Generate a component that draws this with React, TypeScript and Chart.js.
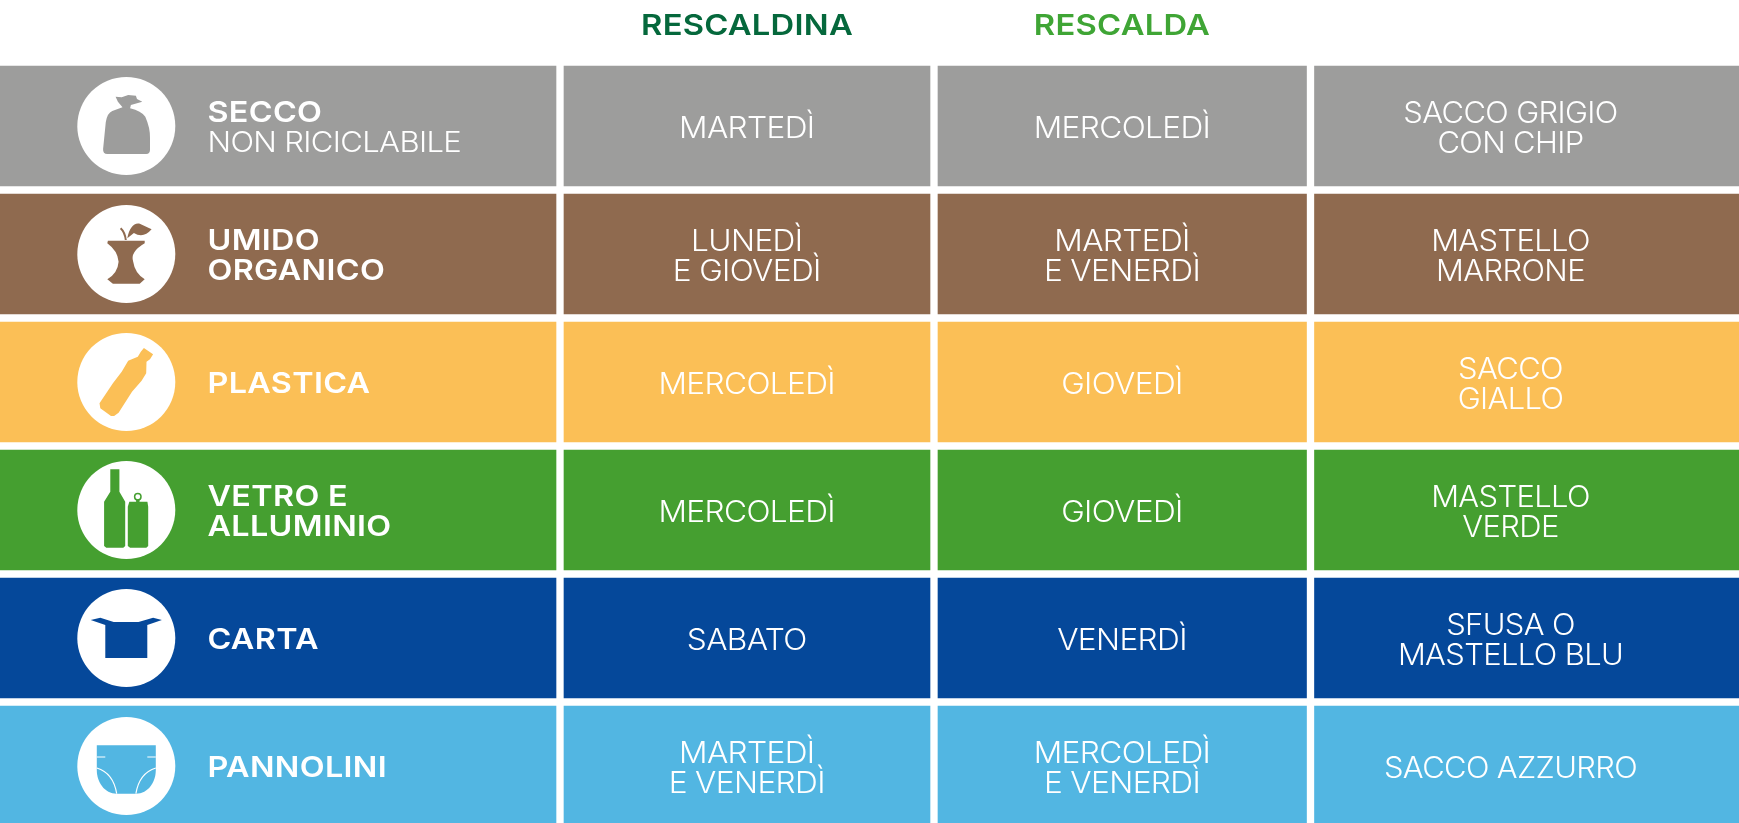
import React, { useEffect, useRef } from "react";
import { Chart, registerables } from "chart.js";

Chart.register(...registerables);

const rowKeys = ["secco", "umido", "plastica", "vetro", "carta", "pannolini"];
const rowColors = ["#9D9D9C", "#8F6A4F", "#FBBF56", "#459F30", "#05489A", "#52B6E2"];
const rowTitles = [
  ["SECCO", "NON RICICLABILE"],
  ["UMIDO", "ORGANICO"],
  ["PLASTICA"],
  ["VETRO E", "ALLUMINIO"],
  ["CARTA"],
  ["PANNOLINI"],
];
const rescaldina = [["MARTEDÌ"], ["LUNEDÌ", "E GIOVEDÌ"], ["MERCOLEDÌ"], ["MERCOLEDÌ"], ["SABATO"], ["MARTEDÌ", "E VENERDÌ"]];
const rescalda = [["MERCOLEDÌ"], ["MARTEDÌ", "E VENERDÌ"], ["GIOVEDÌ"], ["GIOVEDÌ"], ["VENERDÌ"], ["MERCOLEDÌ", "E VENERDÌ"]];
const contenitori = [
  ["SACCO GRIGIO", "CON CHIP"],
  ["MASTELLO", "MARRONE"],
  ["SACCO", "GIALLO"],
  ["MASTELLO", "VERDE"],
  ["SFUSA O", "MASTELLO BLU"],
  ["SACCO AZZURRO"],
];
const columnSpans = [
  [0, 556],
  [564, 930],
  [938, 1306.5],
  [1314.5, 1739],
];
const textCentres = [746.75, 1122, 1510.5];
const headers = [
  { text: "RESCALDINA", at: 747, color: "#05683C" },
  { text: "RESCALDA", at: 1122, color: "#3FA535" },
];

const FONT = "Inter";
const ICONS: Record<string, (c: CanvasRenderingContext2D, color: string) => void> = {};

function poly(c: CanvasRenderingContext2D, pts: number[][]) {
  c.beginPath();
  pts.forEach(([x, y], i) => (i ? c.lineTo(x, y) : c.moveTo(x, y)));
  c.closePath();
  c.fill();
}

ICONS.secco = (c, col) => {
  c.fillStyle = col;
  c.beginPath();
  c.moveTo(-10.7, -29.3);
  c.lineTo(-4.6, -28.7);
  c.lineTo(1.9, -31);
  c.lineTo(9.6, -30.3);
  c.lineTo(10.7, -27);
  c.lineTo(16, -24.3);
  c.lineTo(4.6, -21);
  c.lineTo(3.8, -17.7);
  c.quadraticCurveTo(15, -15, 19, -9.3);
  c.quadraticCurveTo(24, 2, 23.7, 12);
  c.lineTo(23.7, 24);
  c.quadraticCurveTo(23.5, 28, 20, 28);
  c.lineTo(-19, 28);
  c.quadraticCurveTo(-23.5, 28, -23.2, 23);
  c.lineTo(-20.5, -4);
  c.quadraticCurveTo(-19, -13, -14, -15);
  c.lineTo(-3.8, -18.7);
  c.lineTo(-8.4, -24.3);
  c.closePath();
  c.fill();
};

ICONS.umido = (c, col) => {
  c.fillStyle = col;
  c.strokeStyle = col;
  c.beginPath();
  c.moveTo(-18.4, -13.3);
  c.lineTo(18.4, -13.3);
  c.lineTo(18.4, -10.7);
  c.quadraticCurveTo(3.5, -2, 6.9, 7.7);
  c.quadraticCurveTo(8.5, 19, 18.4, 25.3);
  c.lineTo(13.4, 29.7);
  c.lineTo(-13.4, 29.7);
  c.lineTo(-19, 25.3);
  c.quadraticCurveTo(-8.5, 19, -7.7, 7.7);
  c.quadraticCurveTo(-8.5, -3, -19, -10.7);
  c.closePath();
  c.fill();
  c.lineWidth = 2;
  c.beginPath();
  c.moveTo(-5.7, -25.7);
  c.quadraticCurveTo(-1.5, -22, -0.5, -14);
  c.stroke();
  c.beginPath();
  c.moveTo(1, -15.7);
  c.bezierCurveTo(3, -26, 8, -32, 14, -30);
  c.lineTo(25.3, -24.7);
  c.quadraticCurveTo(17, -15, 7.6, -21);
  c.closePath();
  c.fill();
};

ICONS.plastica = (c, col) => {
  c.fillStyle = col;
  poly(c, [
    [17.6, -34], [26.8, -27.7], [23.7, -22.7], [20.2, -20.3], [19.9, -8.7], [15.3, -1.3], [5.7, 9.7],
    [-7.7, 30.7], [-12.2, 34], [-15.3, 34], [-26, 26.3], [-26.8, 21.3], [-13.4, 1.3], [-4.6, -10.3],
    [1.9, -21.3], [11.5, -25.3], [14.5, -30.3],
  ]);
};

ICONS.vetro = (c, col) => {
  c.fillStyle = col;
  c.strokeStyle = col;
  poly(c, [
    [-16, -40.7], [-6.9, -40.7], [-6.9, -18.3], [-1.1, -8.3], [-1.1, 36], [-3, 37.7], [-20, 37.7],
    [-22.2, 36], [-22.2, -8.3], [-16, -18.3],
  ]);
  poly(c, [
    [3, -8.3], [21.1, -8.3], [21.9, -3.3], [21.9, 36], [20, 37.7], [3.8, 37.7], [1.5, 36], [1.5, -3.3],
  ]);
  c.lineWidth = 1.5;
  c.beginPath();
  c.arc(11.5, -13.3, 3.2, 0, Math.PI * 2);
  c.stroke();
  c.fillRect(9.8, -10.5, 3.4, 2.5);
};

ICONS.carta = (c, col) => {
  c.fillStyle = col;
  poly(c, [
    [-35.6, -18], [-26, -20.3], [-12.6, -16], [12.2, -16], [26.8, -20.3], [35.6, -18], [21, -13],
    [21, 20], [-21, 20], [-21, -13],
  ]);
};

ICONS.pannolini = (c, col) => {
  c.fillStyle = col;
  c.beginPath();
  c.moveTo(-29.5, -20.7);
  c.lineTo(29.5, -20.7);
  c.lineTo(29.5, 4);
  c.bezierCurveTo(29.5, 16, 22, 27.7, 9.6, 27.7);
  c.lineTo(-9.6, 27.7);
  c.bezierCurveTo(-22, 27.7, -29.5, 16, -29.5, 4);
  c.closePath();
  c.fill();
  c.strokeStyle = "#FFFFFF";
  c.lineWidth = 1.2;
  c.beginPath();
  c.moveTo(-29.5, -9);
  c.lineTo(-21, -9);
  c.moveTo(29.5, -9);
  c.lineTo(21, -9);
  c.moveTo(-29.5, 2);
  c.quadraticCurveTo(-13, 7, -9.6, 27.7);
  c.moveTo(29.5, 2);
  c.quadraticCurveTo(13, 7, 9.6, 27.7);
  c.stroke();
};

function text(
  c: CanvasRenderingContext2D,
  s: string,
  x: number,
  y: number,
  weight: number,
  size: number,
  align: CanvasTextAlign,
  spacing: number,
  stretch: number,
  color = "#FFFFFF",
) {
  c.save();
  c.font = `${weight} ${size}px ${FONT}`;
  (c as any).letterSpacing = `${spacing}px`;
  c.textAlign = align;
  c.textBaseline = "alphabetic";
  c.fillStyle = color;
  c.translate(x, y);
  c.scale(stretch, 1);
  c.fillText(s, 0, 0);
  c.restore();
}

const tablePlugin = {
  id: "tableText",
  afterDatasetsDraw(chart: any) {
    const c: CanvasRenderingContext2D = chart.ctx;
    const xs = chart.scales.x;
    const ys = chart.scales.y;
    c.save();
    headers.forEach((h) => text(c, h.text, xs.getPixelForValue(h.at), 35, 600, 29, "center", 0.2, 1.13, h.color));
    rowKeys.forEach((key, i) => {
      const cy = ys.getPixelForValue(i);
      const cx = xs.getPixelForValue(126.3);
      c.fillStyle = "#FFFFFF";
      c.beginPath();
      c.arc(cx, cy, 49, 0, Math.PI * 2);
      c.fill();
      c.save();
      c.translate(cx, cy);
      ICONS[key](c, rowColors[i]);
      c.restore();

      const left = xs.getPixelForValue(207.5);
      const title = rowTitles[i];
      title.forEach((line, j) => {
        const dy = title.length === 1 ? 10.5 : j === 0 ? -4.5 : 26;
        const light = line === "NON RICICLABILE";
        text(c, line, left, cy + dy, light ? 300 : 600, 29, "left", light ? -0.6 : 0.3, light ? 1.07 : 1.115);
      });

      [rescaldina, rescalda, contenitori].forEach((col, k) => {
        const lines = col[i];
        lines.forEach((line, j) => {
          const dy = lines.length === 1 ? 12 : j === 0 ? -3 : 26.5;
          text(c, line, xs.getPixelForValue(textCentres[k]), cy + dy, 300, 30, "center", -0.6, k === 2 ? 1.03 : 1.055);
        });
      });
    });
    c.restore();
  },
};

export default function App() {
  const ref = useRef<HTMLCanvasElement>(null);
  useEffect(() => {
    document.body.style.margin = "0";
    document.body.style.overflow = "hidden";
    const chart = new Chart(ref.current!, {
      type: "bar",
      data: {
        datasets: columnSpans.map((span, k) => ({
          label: `col${k}`,
          data: rowKeys.map((_, i) => ({ x: span, y: i })),
          backgroundColor: rowColors,
          borderWidth: 0,
          borderSkipped: false,
          barThickness: 120,
          grouped: false,
        })),
      } as any,
      options: {
        indexAxis: "y",
        animation: false,
        responsive: false,
        maintainAspectRatio: false,
        layout: { padding: 0 },
        plugins: { legend: { display: false }, tooltip: { enabled: false }, title: { display: false } },
        scales: {
          x: { type: "linear", min: 0, max: 1739, display: false, offset: false },
          y: { type: "linear", min: -126 / 128, max: 697 / 128, reverse: true, display: false, offset: false },
        },
      } as any,
      plugins: [tablePlugin],
    });
    return () => chart.destroy();
  }, []);
  return <canvas ref={ref} width={1739} height={823} style={{ display: "block" }} />;
}
